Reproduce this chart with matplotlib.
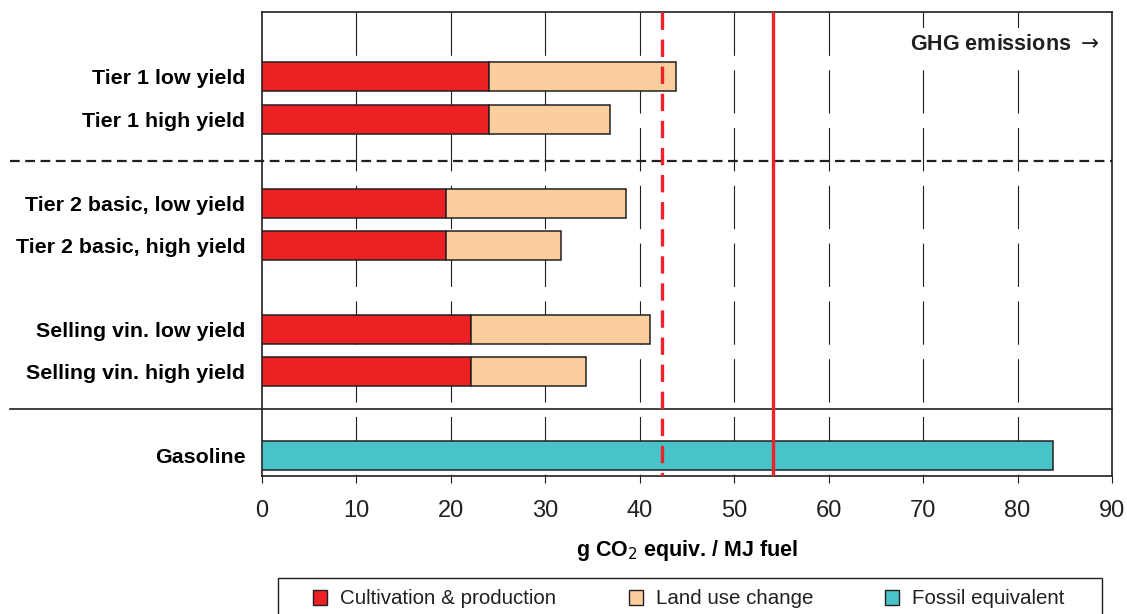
import matplotlib
matplotlib.use("Agg")
import matplotlib.pyplot as plt
from matplotlib.patches import Rectangle

plt.rcParams['font.family'] = ['Liberation Sans', 'DejaVu Sans']
plt.rcParams['lines.scale_dashes'] = False
NARROW = ['Liberation Sans Narrow', 'Liberation Sans']

# emissions per scenario, g CO2 eq / MJ
scenarios = ["Tier 1 low yield", "Tier 1 high yield",
             "Tier 2 basic, low yield", "Tier 2 basic, high yield",
             "Selling vin. low yield", "Selling vin. high yield"]
cultivation = [24.0, 24.0, 19.5, 19.5, 22.1, 22.1]
land_use = [19.8, 12.8, 19.0, 12.2, 19.0, 12.2]
fossil_label = "Gasoline"
fossil_value = 83.8
limit_dashed = 42.4
limit_solid = 54.1
xticks = [0, 10, 20, 30, 40, 50, 60, 70, 80, 90]
legend_labels = ["Cultivation & production", "Land use change", "Fossil equivalent"]

RED = "#ED2024"
PEACH = "#FBCE9D"
TEAL = "#48C3C8"
EDGE = "#231F20"

# row slots, top to bottom
rows = [0, 1, 3, 4, 6, 7]
fossil_row = 9
ytop, ybot = -1.545, 9.49

W, H = 1127, 614
fig = plt.figure(figsize=(W/100, H/100), dpi=100)
ax = fig.add_axes([262/W, 138/H, 850/W, 464/H])

bh = 0.69
ax.barh(rows, cultivation, height=bh, color=RED, edgecolor=EDGE, linewidth=1.1, zorder=3)
ax.barh(rows, land_use, left=cultivation, height=bh, color=PEACH, edgecolor=EDGE,
        linewidth=1.1, zorder=3)
ax.barh([fossil_row], [fossil_value], height=bh, color=TEAL, edgecolor=EDGE,
        linewidth=1.1, zorder=3)

# long-dash vertical grid
for x in xticks[1:-1]:
    ax.plot([x, x], [ytop, ybot], color=EDGE, lw=0.8, zorder=1,
            linestyle=(0, (31.2, 10.4)))

# emission limits
ax.plot([limit_dashed, limit_dashed], [ytop, ybot], color="#EE2229", lw=2.4,
        linestyle=(0, (12.5, 7.0)), zorder=4)
ax.axvline(limit_solid, color="#EE2229", lw=2.4, zorder=4)

# group separators running out under the labels
tr = ax.get_yaxis_transform()
ax.plot([-0.2965, 1.0], [2.0, 2.0], transform=tr, color=EDGE, lw=1.6,
        linestyle=(0, (7.0, 4.0)), clip_on=False, zorder=2)
ax.plot([-0.2965, 1.0], [7.89, 7.89], transform=tr, color=EDGE, lw=1.2,
        clip_on=False, zorder=2)

ax.set_xlim(0, 90)
ax.set_ylim(ybot, ytop)
ax.set_xticks(xticks)
ax.set_xticklabels([str(t) for t in xticks], fontsize=17, family=NARROW)
ax.set_yticks(rows + [fossil_row])
ax.set_yticklabels(scenarios + [fossil_label], fontsize=15.4, fontweight='bold')
ax.tick_params(axis='y', length=0, pad=12)
ax.tick_params(axis='x', direction='out', length=5, width=0.8, pad=12, colors=EDGE)
for s in ax.spines.values():
    s.set_linewidth(1.2)
    s.set_color(EDGE)

ax.set_xlabel("g CO$_2$ equiv. / MJ fuel", fontsize=15.5, fontweight='bold', labelpad=12)

ax.text(0.985, -0.78, "GHG emissions $\\rightarrow$", transform=tr, ha='right', va='center',
        fontsize=15.5, fontweight='bold', color=EDGE, zorder=2,
        bbox=dict(facecolor='white', edgecolor='none', pad=4))

# legend box along the bottom edge
fig.patches.append(Rectangle((278/W, -0.02), 824/W, (614-578)/H + 0.02,
                             transform=fig.transFigure, facecolor='white',
                             edgecolor=EDGE, lw=1.0))
for lab, col, x0 in zip(legend_labels, [RED, PEACH, TEAL], [313, 629, 885]):
    fig.patches.append(Rectangle((x0/W, (H-605)/H), 14/W, 15/H, transform=fig.transFigure,
                                 facecolor=col, edgecolor=EDGE, lw=1.0))
    fig.text((x0 + 27)/W, (H-598)/H, lab, ha='left', va='center',
             fontsize=14.8, family=NARROW, color=EDGE)

fig.savefig("out.png", dpi=100)
